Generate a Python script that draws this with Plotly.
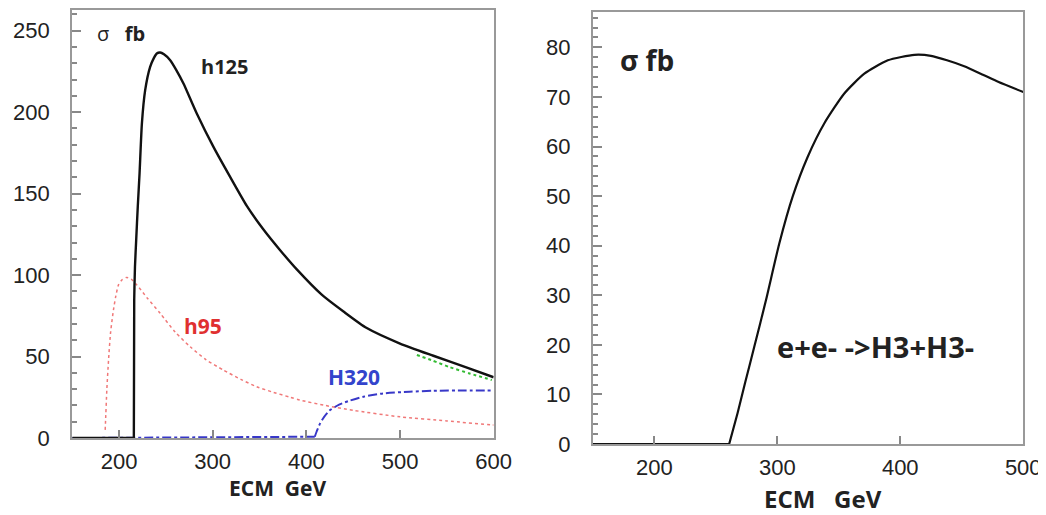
import plotly.graph_objects as go

# ---------------- Left panel data ----------------
h125_x = [150, 215.8, 216.2, 217, 218.3, 220, 221.9, 224.4, 227.9, 233.2, 237, 240.3, 243.9, 248, 254.6, 261, 268.8, 283, 300.8, 318.6, 336.4, 354.2, 372, 389.8, 416.4, 440, 464.5, 500, 535.6, 570, 600]
h125_y = [0, 0, 84.7, 105, 121.5, 142, 162.4, 193, 213.5, 227.8, 233, 236, 236.6, 235.5, 231.9, 226, 217.6, 199.2, 178.7, 160.3, 142.5, 128, 115.3, 103.5, 88, 77.5, 67.5, 58, 50.5, 43.5, 37.3]

h95_x = [185.2, 185.5, 187, 188.8, 191, 194, 196.5, 199.4, 203, 208, 213, 219, 230, 244, 260, 276, 293, 311.5, 330, 347, 365, 383, 393, 420, 450, 500, 550, 598, 600]
h95_y = [5, 9, 30, 48, 65, 78.5, 87, 94, 97, 98.6, 97.5, 94, 86, 76.5, 65, 56, 48, 41.7, 36, 31.5, 28, 25, 23.3, 20, 17, 13, 10.5, 8, 8]

H320_x = [150, 409, 411, 414.7, 419, 425, 435, 446.7, 462, 482, 510, 536, 570, 600]
H320_y = [0, 0.8, 4, 9, 13, 17, 20.5, 23, 25.5, 27.4, 28.4, 29, 29.2, 29.2]

green_x = [518, 535, 553, 575, 598]
green_y = [51, 47.5, 43.5, 39.5, 35.6]

# ---------------- Right panel data ----------------
H3_x = [150, 260.9, 267.7, 274, 281.3, 290.8, 301.7, 312.5, 324.7, 338.3, 354.5, 370.8, 389.9, 411.5, 425, 438, 452, 465.4, 480, 500]
H3_y = [0, 0, 6.2, 12.5, 19.6, 29, 40.5, 49.9, 57.9, 64.7, 70.7, 74.7, 77.4, 78.5, 78.3, 77.4, 76.2, 74.7, 73, 71]

left_yticks = [0, 50, 100, 150, 200, 250]
left_xticks = [200, 300, 400, 500, 600]
right_yticks = [0, 10, 20, 30, 40, 50, 60, 70, 80]
right_xticks = [200, 300, 400, 500]

# layout geometry (target pixel positions in the final picture)
SX, SY = 0.982, 0.975   # observed shrink of the photographed page
OFF = 8                 # default body margin
W = round(1046 / SX) - 2 * OFF + 14
H = round(515 / SY) - 2 * OFF


def fx(px):
    return (px / SX - OFF) / W


def fy(py):
    return 1 - (py / SY - OFF) / H


fig = go.Figure()


def add(xs, ys, color, width, dash, xa, ya, shape="spline"):
    fig.add_trace(go.Scatter(x=xs, y=ys, mode="lines", line=dict(color=color, width=width, dash=dash,
                                                                   shape=shape, smoothing=0.6),
                             xaxis=xa, yaxis=ya, showlegend=False))


# left panel: flat baselines drawn straight, rising parts smoothed
add(H320_x[:2], H320_y[:2], "#3838c8", 2, "dashdot", "x", "y", "linear")
add(H320_x[1:], H320_y[1:], "#3838c8", 2, "dashdot", "x", "y")
add(h95_x, h95_y, "#f07878", 1.5, "dot", "x", "y")
add(green_x, green_y, "#33bb33", 2, "dot", "x", "y")
add(h125_x[:2], h125_y[:2], "#111111", 2.4, "solid", "x", "y", "linear")
add(h125_x[1:], h125_y[1:], "#111111", 2.4, "solid", "x", "y")
# right panel
add(H3_x[:2], H3_y[:2], "#111111", 2.2, "solid", "x2", "y2", "linear")
add(H3_x[1:], H3_y[1:], "#111111", 2.2, "solid", "x2", "y2")

tickfont = dict(family="Liberation Sans, Arial, sans-serif", size=22, color="#222222")
axis_common = dict(showline=True, mirror=True, linecolor="#999999", linewidth=2, ticks="inside",
                   tickcolor="#888888", tickwidth=1.5, showgrid=False, zeroline=False, tickfont=tickfont,
                   fixedrange=True)

fig.update_layout(
    width=W, height=H,
    margin=dict(l=0, r=0, t=0, b=0),
    paper_bgcolor="white", plot_bgcolor="white",
    xaxis=dict(domain=[fx(72), fx(493)], range=[150, 600], tickvals=left_xticks, ticklen=8,
               anchor="y", ticklabelstandoff=3, **axis_common),
    yaxis=dict(domain=[fy(438), fy(10)], range=[0, 262.6], tickvals=left_yticks, ticklen=9,
               minor=dict(dtick=10, ticks="inside", ticklen=5, tickcolor="#888888"),
               anchor="x", ticklabelstandoff=16, **axis_common),
    xaxis2=dict(domain=[fx(592), fx(1022)], range=[150, 500], tickvals=right_xticks, ticklen=8,
                anchor="y2", ticklabelstandoff=3, **axis_common),
    yaxis2=dict(domain=[fy(444), fy(12)], range=[0, 87.1], tickvals=right_yticks, ticklen=9,
                minor=dict(dtick=2, ticks="inside", ticklen=5, tickcolor="#888888"),
                anchor="x2", ticklabelstandoff=16, **axis_common),
)

lab = "Open Sans, DejaVu Sans, sans-serif"
anns = [
    dict(x=202, y=248.5, xref="x", yref="y", text="σ   <b>fb</b>", font=dict(family=lab, size=20, color="#222")),
    dict(x=313, y=228, xref="x", yref="y", text="<b>h125</b>", font=dict(family=lab, size=20, color="#222")),
    dict(x=290, y=69, xref="x", yref="y", text="<b>h95</b>", font=dict(family=lab, size=21, color="#e03030")),
    dict(x=451, y=37.5, xref="x", yref="y", text="<b>H320</b>", font=dict(family=lab, size=21, color="#3344cc")),
    dict(x=194, y=77.4, xref="x2", yref="y2", text="<b>σ fb</b>", font=dict(family=lab, size=28, color="#222")),
    dict(x=380, y=19.6, xref="x2", yref="y2", text="<b>e+e- ->H3+H3-</b>", font=dict(family=lab, size=29, color="#222")),
    dict(x=fx(277), y=fy(488), xref="paper", yref="paper", text="<b>ECM  GeV</b>", font=dict(family=lab, size=21, color="#222")),
    dict(x=fx(822), y=fy(498), xref="paper", yref="paper", text="<b>ECM   GeV</b>", font=dict(family=lab, size=24, color="#222")),
]
for a in anns:
    fig.add_annotation(showarrow=False, xanchor="center", yanchor="middle", **a)

fig.write_html("out.html", config={"displayModeBar": False})
